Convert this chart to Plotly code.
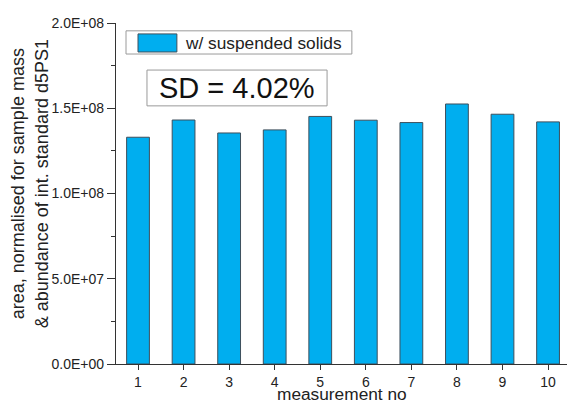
import plotly.graph_objects as go

# Normalised peak area per replicate measurement
measurement_no = [1, 2, 3, 4, 5, 6, 7, 8, 9, 10]
area_normalised = [1.330e8, 1.431e8, 1.355e8, 1.373e8, 1.452e8,
                   1.430e8, 1.416e8, 1.525e8, 1.465e8, 1.420e8]
series_name = "w/ suspended solids"
sd_label = "SD = 4.02%"
x_title = "measurement no"
y_title = "area, normalised for sample mass<br>& abundance of int. standard d5PS1"

y_tickvals = [0, 5e7, 1e8, 1.5e8, 2e8]
y_ticktext = ["0.0E+00", "5.0E+07", "1.0E+08", "1.5E+08", "2.0E+08"]
y_minor_vals = [2.5e7, 7.5e7, 1.25e8, 1.75e8]

FONT = "Liberation Sans, Arial, sans-serif"
AXIS_COLOR = "#333333"
TEXT_COLOR = "#222222"
BAR_COLOR = "#00AEEF"
BAR_EDGE = "#3d4f5c"
BOX_EDGE = "#9a9a9a"

fig = go.Figure()
fig.add_trace(go.Bar(
    x=measurement_no,
    y=area_normalised,
    name=series_name,
    width=0.5,
    marker=dict(color=BAR_COLOR, line=dict(color=BAR_EDGE, width=1)),
    showlegend=False,
))

fig.update_layout(
    width=567,
    height=401,
    margin=dict(l=116, r=0, t=23, b=37),
    plot_bgcolor="white",
    paper_bgcolor="white",
    font=dict(family=FONT, color=TEXT_COLOR),
    showlegend=False,
)

fig.update_xaxes(
    range=[0.517, 10.416],
    tickmode="array",
    tickvals=measurement_no,
    ticks="outside",
    ticklen=5,
    tickwidth=1,
    tickcolor=AXIS_COLOR,
    showline=True,
    linecolor=AXIS_COLOR,
    linewidth=1.2,
    showgrid=False,
    zeroline=False,
    automargin=False,
    tickfont=dict(size=14, family=FONT, color=TEXT_COLOR),
)

fig.update_yaxes(
    range=[0, 2e8],
    tickmode="array",
    tickvals=y_tickvals,
    ticktext=y_ticktext,
    ticks="outside",
    ticklen=8,
    tickwidth=1,
    tickcolor=AXIS_COLOR,
    minor=dict(tickmode="array", tickvals=y_minor_vals, ticks="outside",
               ticklen=4, tickcolor=AXIS_COLOR, showgrid=False),
    showline=True,
    linecolor=AXIS_COLOR,
    linewidth=1.2,
    showgrid=False,
    zeroline=False,
    automargin=False,
    tickfont=dict(size=14, family=FONT, color=TEXT_COLOR),
)

# Axis titles
fig.add_annotation(xref="paper", yref="paper", x=0.5, y=-0.0894,
                   xanchor="center", yanchor="middle", showarrow=False,
                   text=x_title, font=dict(size=17.3, family=FONT, color=TEXT_COLOR))
fig.add_annotation(xref="paper", yref="paper", x=-0.19, y=0.528,
                   xanchor="center", yanchor="middle", showarrow=False,
                   textangle=-90, text=y_title,
                   font=dict(size=18, family=FONT, color=TEXT_COLOR))

# Legend box drawn in paper coordinates with a wide swatch
fig.add_shape(type="rect", xref="paper", yref="paper",
              x0=0.0222, x1=0.523, y0=0.909, y1=0.977,
              line=dict(color=BOX_EDGE, width=1), fillcolor="white", layer="above")
fig.add_shape(type="rect", xref="paper", yref="paper",
              x0=0.0488, x1=0.135, y0=0.915, y1=0.968,
              line=dict(color=BAR_EDGE, width=1), fillcolor=BAR_COLOR, layer="above")
fig.add_annotation(xref="paper", yref="paper", x=0.1486, y=0.941,
                   xanchor="left", yanchor="middle", showarrow=False,
                   text=series_name,
                   font=dict(size=17.3, family=FONT, color=TEXT_COLOR))

# Standard deviation label in a framed box
fig.add_shape(type="rect", xref="paper", yref="paper",
              x0=0.0687, x1=0.468, y0=0.757, y1=0.862,
              line=dict(color=BOX_EDGE, width=1), fillcolor="white", layer="above")
fig.add_annotation(xref="paper", yref="paper", x=0.268, y=0.809,
                   xanchor="center", yanchor="middle", showarrow=False,
                   text=sd_label,
                   font=dict(size=29, family=FONT, color="#111111"))

fig.write_html("out.html")
